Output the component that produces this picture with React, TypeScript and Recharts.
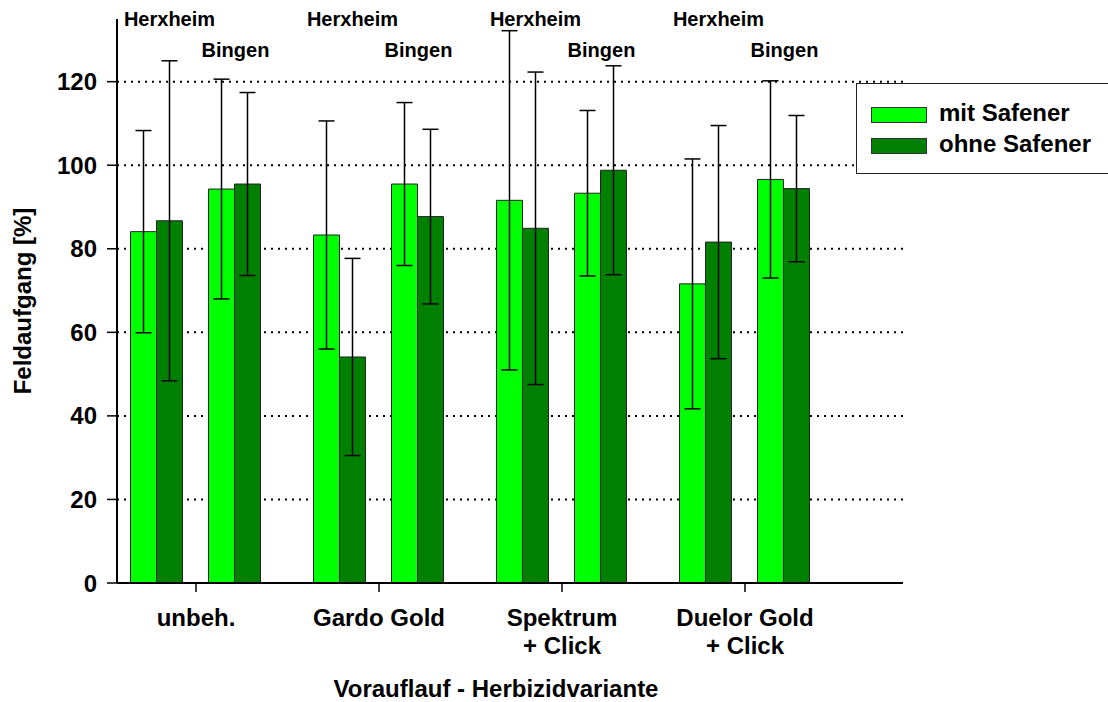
import { Bar, BarChart, CartesianGrid, ErrorBar, LabelList, Legend, XAxis, YAxis } from 'recharts';

const variants = ['unbeh.', 'Gardo Gold', 'Spektrum\n+ Click', 'Duelor Gold\n+ Click'];
const sites = ['Herxheim', 'Bingen'];

// Feldaufgang [%] with half-range of the error bars
const herxMit = [84.1, 83.3, 91.6, 71.6];
const herxMitErr = [24.2, 27.3, 40.6, 29.9];
const herxOhne = [86.7, 54.1, 84.9, 81.6];
const herxOhneErr = [38.3, 23.6, 37.4, 27.9];
const bingenMit = [94.3, 95.5, 93.3, 96.6];
const bingenMitErr = [26.3, 19.5, 19.8, 23.6];
const bingenOhne = [95.5, 87.7, 98.8, 94.4];
const bingenOhneErr = [21.9, 20.9, 25.0, 17.5];

const yTicks = [0, 20, 40, 60, 80, 100, 120];

const LIGHT = '#00ff00';
const DARK = '#008000';
const FONT = 'Arial, "Liberation Sans", sans-serif';

const data = variants.map((name, i) => ({
  name,
  pos: i + 1,
  hMit: herxMit[i],
  hMitErr: herxMitErr[i],
  hOhne: herxOhne[i],
  hOhneErr: herxOhneErr[i],
  bMit: bingenMit[i],
  bMitErr: bingenMitErr[i],
  bOhne: bingenOhne[i],
  bOhneErr: bingenOhneErr[i],
}));

function VariantTick({ x, y, payload }: any) {
  const label = variants[Math.round(payload.value) - 1] ?? '';
  return (
    <text x={x} y={y} textAnchor="middle" fill="#000" fontSize={24} fontWeight="bold" fontFamily={FONT}>
      {label.split('\n').map((line, i) => (
        <tspan key={i} x={x} dy={i === 0 ? 34 : 28}>
          {line}
        </tspan>
      ))}
    </text>
  );
}

function LegendBox({ payload }: any) {
  const seen = new Set<string>();
  const items = (payload ?? []).filter((p: any) => {
    if (p.type === 'none' || seen.has(p.value)) return false;
    seen.add(p.value);
    return true;
  });
  return (
    <div
      style={{
        boxSizing: 'border-box',
        width: 252,
        height: 91,
        border: '1.5px solid #222',
        borderRight: 'none',
        background: '#fff',
        padding: '13px 0 0 14px',
        fontFamily: FONT,
      }}
    >
      {items.map((p: any) => (
        <div key={p.value} style={{ display: 'flex', alignItems: 'center', height: 31 }}>
          <span
            style={{
              boxSizing: 'border-box',
              width: 56,
              height: 16,
              background: p.color,
              border: '1px solid #333',
              marginRight: 12,
              marginTop: 4,
            }}
          />
          <span style={{ fontSize: 24, fontWeight: 'bold', color: '#000' }}>{p.value}</span>
        </div>
      ))}
    </div>
  );
}

function SiteLabel({ text, dx, y }: { text: string; dx: number; y: number }) {
  return (p: any) => (
    <text
      x={Number(p.x) + dx}
      y={y}
      textAnchor="middle"
      fill="#000"
      fontSize={20}
      fontWeight="bold"
      fontFamily={FONT}
    >
      {text}
    </text>
  );
}

export default function App() {
  return (
    <div style={{ position: 'absolute', left: 0, top: 0, width: 1108, height: 702, background: '#fff' }}>
      <BarChart
        width={1108}
        height={702}
        data={data}
        margin={{ top: 19, right: 205, bottom: 0, left: 0 }}
        barGap={0}
        barSize={26}
      >
        <CartesianGrid
          vertical={false}
          horizontalValues={yTicks}
          stroke="#000"
          strokeWidth={2}
          strokeDasharray="2 5"
        />
        <XAxis
          type="number"
          dataKey="pos"
          domain={[0.5683, 4.8634]}
          ticks={[1, 2, 3, 4]}
          allowDataOverflow
          height={119}
          tickSize={9}
          tickMargin={0}
          axisLine={{ stroke: '#000', strokeWidth: 2 }}
          tickLine={{ stroke: '#000', strokeWidth: 1.5 }}
          tick={<VariantTick />}
          label={{
            content: ({ viewBox }: any) => (
              <text
                x={viewBox.x + viewBox.width / 2 - 14}
                y={viewBox.y + 114}
                textAnchor="middle"
                fill="#000"
                fontSize={24}
                fontWeight="bold"
                fontFamily={FONT}
              >
                Vorauflauf - Herbizidvariante
              </text>
            ),
          }}
        />
        <YAxis
          width={117}
          domain={[0, 135]}
          ticks={yTicks}
          allowDataOverflow
          tickSize={10}
          tickMargin={10}
          axisLine={{ stroke: '#000', strokeWidth: 2 }}
          tickLine={{ stroke: '#000', strokeWidth: 1.5 }}
          tick={{ fill: '#000', fontSize: 24, fontWeight: 'bold', fontFamily: FONT }}
          label={{
            content: ({ viewBox }: any) => {
              const cx = viewBox.x + 23;
              const cy = viewBox.y + viewBox.height / 2;
              return (
                <text
                  x={cx}
                  y={cy}
                  dy="0.35em"
                  transform={`rotate(-90, ${cx}, ${cy})`}
                  textAnchor="middle"
                  fill="#000"
                  fontSize={24}
                  fontWeight="bold"
                  fontFamily={FONT}
                >
                  Feldaufgang [%]
                </text>
              );
            },
          }}
        />
        <Legend
          layout="vertical"
          align="center"
          verticalAlign="middle"
          wrapperStyle={{ left: 856, top: 83, width: 252, height: 91 }}
          content={<LegendBox />}
        />
        <Bar dataKey="hMit" name="mit Safener" fill={LIGHT} stroke="#222" strokeWidth={1} isAnimationActive={false}>
          <ErrorBar dataKey="hMitErr" width={8} stroke="#000" strokeWidth={1.5} direction="y" />
        </Bar>
        <Bar dataKey="hOhne" name="ohne Safener" fill={DARK} stroke="#222" strokeWidth={1} isAnimationActive={false}>
          <ErrorBar dataKey="hOhneErr" width={8} stroke="#000" strokeWidth={1.5} direction="y" />
          <LabelList dataKey="hOhne" content={SiteLabel({ text: sites[0], dx: 13, y: 26 })} />
        </Bar>
        <Bar dataKey="spacer" legendType="none" fill="none" isAnimationActive={false} />
        <Bar dataKey="bMit" name="mit Safener" fill={LIGHT} stroke="#222" strokeWidth={1} isAnimationActive={false}>
          <ErrorBar dataKey="bMitErr" width={8} stroke="#000" strokeWidth={1.5} direction="y" />
        </Bar>
        <Bar dataKey="bOhne" name="ohne Safener" fill={DARK} stroke="#222" strokeWidth={1} isAnimationActive={false}>
          <ErrorBar dataKey="bOhneErr" width={8} stroke="#000" strokeWidth={1.5} direction="y" />
          <LabelList dataKey="bOhne" content={SiteLabel({ text: sites[1], dx: 1, y: 57 })} />
        </Bar>
      </BarChart>
    </div>
  );
}
